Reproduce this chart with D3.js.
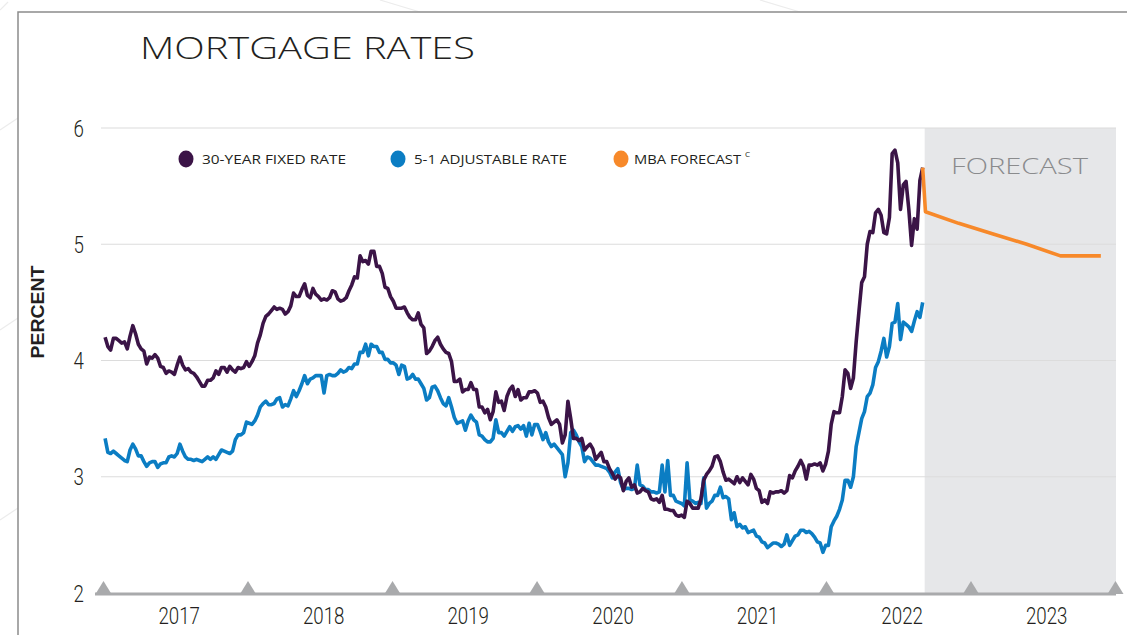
<!DOCTYPE html>
<html>
<head>
<meta charset="utf-8">
<script src="https://cdn.jsdelivr.net/npm/d3@7"></script>
<style>
  body { margin: 0; background: #fff; }
  svg { display: block; }
  .num { font-family: Roboto, "DejaVu Sans", sans-serif; font-weight: 300; fill: #231f20; }
</style>
</head>
<body>
<svg id="chart" width="1127" height="635"></svg>
<script>
// y axis ticks and year labels
const yTicks = [2, 3, 4, 5, 6];
const gridTicks = [3, 4, 5, 6];
const yearLabels = [2017, 2018, 2019, 2020, 2021, 2022, 2023];
const yearBreaks = [2017, 2018, 2019, 2020, 2021, 2022, 2023, 2024];

// weekly survey, first reading thursday 2017-01-05
const firstWeek = "2017-01-05";

const fixedRate = [
	// 2017
	4.20,4.12,4.09,4.19,4.19,4.17,4.15,4.16,4.10,4.21,4.30,4.23,4.14,4.10,4.08,3.97,4.03,4.02,4.05,4.02,3.95,3.94,3.89,3.91,3.90,3.88,
	3.96,4.03,3.96,3.92,3.93,3.90,3.89,3.86,3.82,3.78,3.78,3.83,3.83,3.85,3.91,3.88,3.94,3.94,3.90,3.95,3.92,3.90,3.94,3.93,3.94,3.99,
	// 2018
	3.95,3.99,4.04,4.15,4.22,4.32,4.38,4.40,4.43,4.46,4.44,4.45,4.44,4.40,4.42,4.47,4.58,4.55,4.55,4.61,4.66,4.56,4.54,4.62,4.57,4.55,
	4.52,4.53,4.52,4.54,4.60,4.59,4.53,4.51,4.52,4.54,4.60,4.65,4.72,4.71,4.90,4.85,4.86,4.83,4.94,4.94,4.81,4.81,4.75,4.63,4.62,4.55,
	// 2019
	4.51,4.45,4.45,4.45,4.46,4.41,4.37,4.35,4.35,4.41,4.31,4.28,4.06,4.08,4.12,4.17,4.20,4.14,4.10,4.07,4.06,3.99,3.82,3.82,3.84,3.73,
	3.75,3.75,3.81,3.75,3.75,3.60,3.60,3.55,3.58,3.49,3.56,3.73,3.64,3.65,3.57,3.69,3.75,3.78,3.69,3.75,3.66,3.68,3.68,3.73,3.73,3.74,
	// 2020
	3.72,3.64,3.65,3.60,3.51,3.45,3.47,3.49,3.45,3.29,3.36,3.65,3.50,3.33,3.33,3.31,3.33,3.23,3.26,3.28,3.24,3.15,3.18,3.21,3.13,3.13,
	3.07,3.03,2.98,3.01,2.99,2.88,2.96,2.99,2.91,2.93,2.86,2.87,2.90,2.88,2.87,2.81,2.80,2.81,2.78,2.84,2.72,2.72,2.71,2.71,2.67,2.66,2.67,
	// 2021
	2.65,2.79,2.77,2.73,2.73,2.73,2.81,2.97,3.02,3.05,3.09,3.17,3.18,3.13,3.04,2.97,2.98,2.96,2.94,3.00,2.95,2.99,2.96,2.93,3.02,2.98,
	2.90,2.88,2.78,2.80,2.77,2.87,2.86,2.87,2.87,2.88,2.86,2.88,3.01,2.99,3.05,3.09,3.14,3.09,2.98,3.10,3.10,3.11,3.10,3.12,3.05,3.11,
	// 2022
	3.22,3.45,3.56,3.55,3.55,3.69,3.92,3.89,3.76,3.85,4.16,4.42,4.67,4.72,5.00,5.11,5.10,5.27,5.30,5.25,5.10,5.09,5.23,5.78,5.81,5.70,
	5.30,5.51,5.54,5.30,4.99,5.22,5.13,5.55,5.66
];

const armRate = [
	// 2017
	3.33,3.21,3.20,3.22,3.20,3.18,3.16,3.14,3.13,3.23,3.28,3.24,3.18,3.18,3.13,3.09,3.12,3.13,3.13,3.08,3.11,3.12,3.12,3.17,3.18,3.17,
	3.20,3.28,3.22,3.17,3.15,3.15,3.14,3.15,3.14,3.13,3.15,3.17,3.15,3.17,3.15,3.19,3.23,3.22,3.21,3.20,3.22,3.32,3.36,3.36,3.38,3.47,
	// 2018
	3.46,3.45,3.48,3.53,3.60,3.63,3.65,3.62,3.62,3.63,3.67,3.68,3.60,3.62,3.61,3.67,3.74,3.69,3.74,3.80,3.87,3.80,3.84,3.85,3.87,3.87,
	3.87,3.72,3.87,3.88,3.87,3.87,3.89,3.92,3.90,3.91,3.94,3.93,3.97,3.97,4.07,4.07,4.14,4.04,4.14,4.12,4.12,4.07,4.07,4.01,4.01,3.98,
	// 2019
	3.98,3.96,3.88,3.96,3.95,3.84,3.85,3.88,3.84,3.84,3.80,3.76,3.66,3.68,3.77,3.78,3.74,3.68,3.63,3.61,3.68,3.60,3.51,3.46,3.47,3.48,
	3.40,3.48,3.53,3.49,3.47,3.36,3.35,3.32,3.30,3.30,3.33,3.49,3.38,3.38,3.35,3.39,3.43,3.39,3.43,3.44,3.41,3.44,3.35,3.46,3.36,3.45,
	// 2020
	3.45,3.39,3.32,3.38,3.30,3.26,3.28,3.25,3.22,3.19,3.00,3.12,3.38,3.40,3.36,3.30,3.26,3.13,3.17,3.16,3.13,3.10,3.10,3.09,3.08,3.07,
	3.04,2.99,3.04,3.07,2.95,2.89,2.90,2.90,2.89,2.90,3.10,2.93,2.92,2.89,2.89,2.87,2.87,2.86,2.87,3.10,2.87,3.14,2.84,2.84,2.79,2.78,2.77,
	// 2021
	2.75,3.12,2.80,2.79,2.77,2.78,2.77,2.99,2.73,2.77,2.79,2.84,2.84,2.91,2.82,2.83,2.81,2.63,2.69,2.57,2.59,2.56,2.57,2.52,2.53,2.54,
	2.49,2.48,2.44,2.43,2.39,2.41,2.43,2.43,2.42,2.40,2.42,2.50,2.41,2.45,2.49,2.50,2.54,2.54,2.52,2.53,2.51,2.48,2.44,2.43,2.35,2.41,
	// 2022
	2.41,2.57,2.62,2.66,2.72,2.80,2.97,2.97,2.91,3.00,3.26,3.38,3.50,3.56,3.69,3.72,3.79,3.94,3.99,4.08,4.19,4.03,4.12,4.32,4.33,4.49,
	4.18,4.33,4.31,4.29,4.25,4.34,4.42,4.37,4.50
];

// MBA forecast, joined to the last fixed-rate reading
const forecastDates = ["2022-09-01", "2022-09-08", "2022-12-01", "2023-02-24", "2023-05-22", "2023-08-15", "2023-11-25"];
const forecastRate = [5.66, 5.28, 5.18, 5.09, 5.00, 4.90, 4.90];

const legendNames = ["30-YEAR FIXED RATE", "5-1 ADJUSTABLE RATE", "MBA FORECAST"];

const purple = "#3b1447";
const blue = "#0b7dc3";
const orange = "#f7892a";
const axisGray = "#a9aaac";

const svg = d3.select("#chart");
const parse = d3.timeParse("%Y-%m-%d");
const start = parse(firstWeek);

const fixedData = fixedRate.map((v, i) => ({ date: d3.timeDay.offset(start, 7 * i), value: v }));
const armData = armRate.map((v, i) => ({ date: d3.timeDay.offset(start, 7 * i), value: v }));
const forecastData = forecastDates.map((d, i) => ({ date: parse(d), value: forecastRate[i] }));
const lastDate = fixedData[fixedData.length - 1].date;

var x = d3.scaleTime()
	.domain([new Date(2017, 0, 1), new Date(2024, 0, 1)])
	.range([103.5, 1115.5]);
var y = d3.scaleLinear().domain([2, 6]).range([593, 128]);

// faint background strokes outside the frame
var bg = svg.append("g").attr("stroke", "#ececec").attr("stroke-width", 1.2).attr("fill", "none");
[[0, 130, 18, 118], [0, 330, 18, 318], [0, 520, 18, 508], [380, 0, 420, 12], [760, 0, 800, 12], [0, 10, 8, 2]].forEach(function (s) {
	bg.append("line").attr("x1", s[0]).attr("y1", s[1]).attr("x2", s[2]).attr("y2", s[3]);
});

// frame
svg.append("path")
	.attr("d", "M18,635 L18,12 L1127,12")
	.attr("fill", "none")
	.attr("stroke", "#8c8c8c")
	.attr("stroke-width", 1.5);

// forecast shading
svg.append("rect")
	.attr("x", x(lastDate) + 2)
	.attr("y", y(6))
	.attr("width", x(new Date(2024, 0, 1)) + 0.5 - x(lastDate) - 2)
	.attr("height", y(2) - y(6))
	.attr("fill", "#e6e7e9");

// grid
svg.append("g")
	.selectAll("line")
	.data(gridTicks)
	.enter()
	.append("line")
	.attr("x1", 101)
	.attr("x2", 1116)
	.attr("y1", (d) => y(d))
	.attr("y2", (d) => y(d))
	.attr("stroke", "#dcdcdc")
	.attr("stroke-width", 1.2);

// y tick labels (condensed look by narrowing horizontally)
svg.append("g")
	.selectAll("text")
	.data(yTicks)
	.enter()
	.append("text")
	.attr("class", "num")
	.attr("transform", (d) => "translate(84," + y(d) + ") scale(0.78,1)")
	.attr("dy", "0.36em")
	.attr("text-anchor", "end")
	.attr("font-size", "24px")
	.text((d) => d);

svg.append("text")
	.attr("transform", "translate(44,312) rotate(-90)")
	.attr("text-anchor", "middle")
	.attr("font-family", "Liberation Sans, Arial, sans-serif")
	.attr("font-weight", "bold")
	.attr("font-size", "18px")
	.attr("textLength", 93)
	.attr("lengthAdjust", "spacingAndGlyphs")
	.attr("fill", "#231f20")
	.text("PERCENT");

// bottom axis with year markers
svg.append("line")
	.attr("x1", 95)
	.attr("x2", 1116)
	.attr("y1", 594)
	.attr("y2", 594)
	.attr("stroke", axisGray)
	.attr("stroke-width", 3);

svg.append("g")
	.selectAll("path")
	.data(yearBreaks)
	.enter()
	.append("path")
	.attr("transform", (d) => "translate(" + x(new Date(d, 0, 1)) + ",594)")
	.attr("d", "M-8,0 L0,-13 L8,0 Z")
	.attr("fill", axisGray);

svg.append("g")
	.selectAll("text")
	.data(yearLabels)
	.enter()
	.append("text")
	.attr("class", "num")
	.attr("transform", (d) => "translate(" + (x(new Date(d, 6, 1)) + 4) + ",624) scale(0.78,1)")
	.attr("text-anchor", "middle")
	.attr("font-size", "24px")
	.text((d) => d);

// lines
var line = d3.line()
	.x((d) => x(d.date))
	.y((d) => y(d.value));

svg.append("path")
	.datum(armData)
	.attr("d", line)
	.attr("fill", "none")
	.attr("stroke", blue)
	.attr("stroke-width", 3.6)
	.attr("stroke-linejoin", "round");

svg.append("path")
	.datum(fixedData)
	.attr("d", line)
	.attr("fill", "none")
	.attr("stroke", purple)
	.attr("stroke-width", 3.6)
	.attr("stroke-linejoin", "round");

svg.append("path")
	.datum(forecastData)
	.attr("d", line)
	.attr("fill", "none")
	.attr("stroke", orange)
	.attr("stroke-width", 3.6)
	.attr("stroke-linejoin", "round");

// titles
svg.append("text")
	.attr("x", 140)
	.attr("y", 59)
	.attr("font-family", "Open Sans, sans-serif")
	.attr("font-weight", 300)
	.attr("font-size", "32px")
	.attr("textLength", 335)
	.attr("lengthAdjust", "spacingAndGlyphs")
	.attr("fill", "#231f20")
	.text("MORTGAGE RATES");

svg.append("text")
	.attr("x", 951)
	.attr("y", 174)
	.attr("font-family", "Open Sans, sans-serif")
	.attr("font-weight", 300)
	.attr("font-size", "22px")
	.attr("textLength", 137)
	.attr("lengthAdjust", "spacingAndGlyphs")
	.attr("fill", "#8a8b8d")
	.text("FORECAST");

// legend
var legendX = [186, 398, 621];
var legendWidth = [144, 153, 107];
var legendColors = [purple, blue, orange];
var legend = svg.append("g")
	.selectAll("g")
	.data(legendNames)
	.enter()
	.append("g")
	.attr("transform", (d, i) => "translate(" + legendX[i] + ",159)");

legend.append("ellipse")
	.attr("rx", 7.5)
	.attr("ry", 8.5)
	.attr("fill", (d, i) => legendColors[i]);

legend.append("text")
	.attr("x", (d, i) => (i == 2 ? 13 : 16))
	.attr("dy", "0.36em")
	.attr("font-family", "Open Sans, sans-serif")
	.attr("font-size", "13px")
	.attr("textLength", (d, i) => legendWidth[i])
	.attr("lengthAdjust", "spacingAndGlyphs")
	.attr("fill", "#231f20")
	.text((d) => d);

legend.filter((d, i) => i == 2)
	.append("text")
	.attr("x", 124)
	.attr("y", -2)
	.attr("font-family", "Open Sans, sans-serif")
	.attr("font-size", "8px")
	.attr("fill", "#231f20")
	.text("C");
</script>
</body>
</html>
